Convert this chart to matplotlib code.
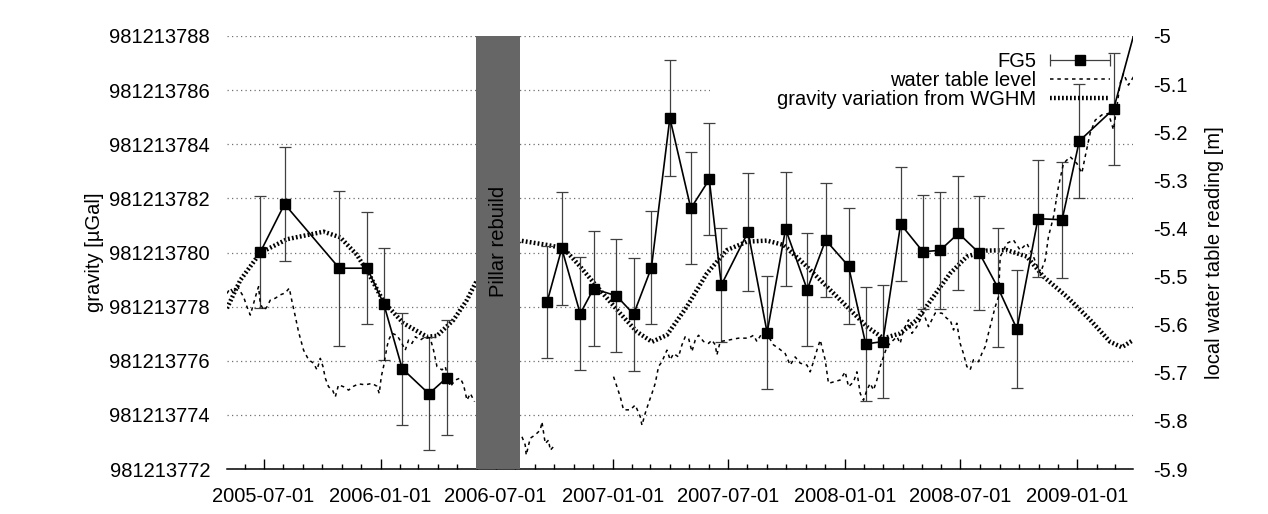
import numpy as np
import pandas as pd
import matplotlib
matplotlib.use('Agg')
import matplotlib.pyplot as plt
import matplotlib.dates as mdates
from matplotlib.patches import Rectangle
from matplotlib.container import ErrorbarContainer
from matplotlib.legend_handler import HandlerErrorbar
from matplotlib.ticker import FuncFormatter

plt.rcParams['font.family'] = ['Liberation Sans', 'DejaVu Sans']
FS = 14.5

# FG5 absolute gravity measurements [uGal]
fg5_date = ['2005-06-26', '2005-08-03', '2005-10-28', '2005-12-11', '2006-01-06',
            '2006-02-04', '2006-03-18', '2006-04-15',
            '2006-09-20', '2006-10-13', '2006-11-11', '2006-12-02', '2007-01-07',
            '2007-02-03', '2007-03-03', '2007-04-01', '2007-05-04', '2007-06-02',
            '2007-06-21', '2007-08-02', '2007-09-01', '2007-09-30', '2007-11-03',
            '2007-12-02', '2008-01-07', '2008-02-03', '2008-03-01', '2008-03-29',
            '2008-05-03', '2008-05-30', '2008-06-28', '2008-07-31', '2008-08-29',
            '2008-09-28', '2008-10-31', '2008-12-08', '2009-01-04', '2009-02-27',
            '2009-04-10']
fg5_g = [981213780.02, 981213781.79, 981213779.42, 981213779.42, 981213778.10,
         981213775.71, 981213774.78, 981213775.37,
         981213778.18, 981213780.15, 981213777.74, 981213778.66, 981213778.40,
         981213777.72, 981213779.44, 981213784.97, 981213781.63, 981213782.70,
         981213778.80, 981213780.76, 981213777.04, 981213780.87, 981213778.63,
         981213780.46, 981213779.50, 981213776.62, 981213776.71, 981213781.05,
         981213780.03, 981213780.08, 981213780.71, 981213779.97, 981213778.70,
         981213777.17, 981213781.25, 981213781.21, 981213784.12, 981213785.30,
         981213788.94]
fg5_err = [2.08, 2.09, 2.87, 2.08, 2.08, 2.07, 2.09, 2.13,
           2.07, 2.10, 2.09, 2.12, 2.09, 2.09, 2.09, 2.14, 2.07, 2.07,
           2.10, 2.17, 2.10, 2.10, 2.09, 2.09, 2.14, 2.10, 2.09, 2.11,
           2.11, 2.15, 2.10, 2.10, 2.19, 2.17, 2.17, 2.14, 2.12, 2.08, 2.10]
n_before = 8  # measurements before the pillar rebuild

# WGHM gravity variation (days after 2005-07-01, uGal)
wghm = [(-57.6, 981213777.94), (-36.6, 981213778.98), (-5.2, 981213779.99),
        (36.8, 981213780.49), (94.4, 981213780.77), (120.6, 981213780.56),
        (146.9, 981213779.91), (167.8, 981213779.11), (188.7, 981213778.18),
        (220.2, 981213777.38), (257.0, 981213776.89), (272.7, 981213776.92),
        (298.8, 981213777.51), (319.9, 981213778.25), (333.0, 981213778.86),
        (368.3, 981213779.80), (403.7, 981213780.44), (445.7, 981213780.28),
        (471.8, 981213780.16), (498.0, 981213779.48), (524.3, 981213778.74),
        (560.9, 981213777.75), (587.2, 981213777.07), (610.8, 981213776.70),
        (634.4, 981213776.95), (665.8, 981213778.00), (697.3, 981213779.23),
        (728.7, 981213780.09), (760.2, 981213780.40), (791.6, 981213780.44),
        (817.7, 981213780.28), (849.2, 981213779.60), (886.0, 981213778.74),
        (922.6, 981213777.88), (948.9, 981213777.26), (975.0, 981213776.83),
        (1001.3, 981213777.01), (1027.5, 981213777.51), (1053.6, 981213778.37),
        (1079.9, 981213779.23), (1106.1, 981213779.85), (1137.6, 981213780.07),
        (1169.0, 981213780.09), (1200.5, 981213779.85), (1226.6, 981213779.11),
        (1263.4, 981213778.37), (1300.1, 981213777.51), (1331.5, 981213776.70),
        (1349.9, 981213776.50), (1368.1, 981213776.77)]

# local water table reading (days after 2005-07-01, m); nan = no data
water = [(-57.6, -5.535), (-52.4, -5.524), (-47.2, -5.535), (-41.8, -5.518),
         (-36.6, -5.531), (-31.5, -5.542), (-26.1, -5.563), (-20.9, -5.580),
         (-15.7, -5.556), (-10.4, -5.531), (-7.9, -5.521), (-5.2, -5.556),
         (0.0, -5.570), (5.3, -5.563), (10.5, -5.549), (18.4, -5.545),
         (26.3, -5.538), (34.1, -5.534), (40.4, -5.524), (44.7, -5.552),
         (49.9, -5.583), (55.0, -5.615), (62.9, -5.653), (70.8, -5.673),
         (78.6, -5.680), (84.0, -5.694), (89.2, -5.670), (93.4, -5.687),
         (97.0, -5.711), (102.2, -5.729), (108.5, -5.736), (112.8, -5.750),
         (117.9, -5.725), (125.8, -5.729), (133.7, -5.736), (141.5, -5.728),
         (149.4, -5.723), (159.9, -5.725), (170.5, -5.722), (178.3, -5.728),
         (181.9, -5.743), (185.1, -5.708), (188.7, -5.687), (194.1, -5.646),
         (196.6, -5.632), (201.9, -5.618), (209.8, -5.622), (217.6, -5.639),
         (222.8, -5.653), (228.0, -5.632), (233.4, -5.639), (238.6, -5.625),
         (246.4, -5.632), (254.3, -5.625), (262.1, -5.628), (267.3, -5.653),
         (272.7, -5.687), (280.6, -5.694), (285.7, -5.687), (293.6, -5.729),
         (301.5, -5.715), (309.3, -5.711), (314.5, -5.725), (319.9, -5.757),
         (325.1, -5.743), (331.8, -5.760),
         (370.0, np.nan),
         (406.4, -5.833), (411.5, -5.850), (413.1, -5.871), (419.4, -5.836),
         (427.3, -5.829), (435.2, -5.819), (437.8, -5.802), (443.0, -5.847),
         (448.2, -5.840), (450.9, -5.861), (455.6, -5.854),
         (500.0, np.nan),
         (550.4, -5.708), (555.8, -5.729), (561.0, -5.750), (566.1, -5.777),
         (576.7, -5.777), (584.5, -5.767), (592.4, -5.791), (595.1, -5.809),
         (600.3, -5.784), (605.5, -5.763), (610.8, -5.743), (616.0, -5.722),
         (621.2, -5.687), (626.5, -5.677), (634.4, -5.653), (639.6, -5.673),
         (644.8, -5.660), (652.6, -5.667), (658.0, -5.642), (663.2, -5.625),
         (668.4, -5.628), (673.7, -5.656), (678.9, -5.632), (684.1, -5.622),
         (692.0, -5.635), (699.8, -5.639), (705.2, -5.632), (710.4, -5.642),
         (713.0, -5.663), (718.2, -5.635), (731.3, -5.632), (747.0, -5.628),
         (762.7, -5.628), (770.6, -5.622), (775.9, -5.635), (783.8, -5.618),
         (794.2, -5.625), (802.0, -5.642), (809.9, -5.649), (820.4, -5.660),
         (828.3, -5.684), (836.1, -5.667), (844.0, -5.680), (854.6, -5.684),
         (859.7, -5.698), (864.9, -5.677), (870.3, -5.653), (875.5, -5.632),
         (883.3, -5.673), (888.5, -5.722), (896.4, -5.719), (906.9, -5.715),
         (914.8, -5.698), (920.0, -5.729), (927.9, -5.719), (933.2, -5.698),
         (938.4, -5.743), (943.6, -5.757), (948.9, -5.736), (954.1, -5.722),
         (959.3, -5.736), (964.6, -5.715), (969.8, -5.687), (975.0, -5.667),
         (980.4, -5.646), (988.2, -5.635), (996.1, -5.625), (1001.3, -5.639),
         (1006.5, -5.611), (1014.4, -5.590), (1019.7, -5.618), (1027.5, -5.604),
         (1037.9, -5.576), (1045.8, -5.604), (1051.1, -5.590), (1056.3, -5.576),
         (1066.8, -5.576), (1074.7, -5.587), (1079.9, -5.590), (1085.1, -5.611),
         (1090.4, -5.597), (1095.6, -5.639), (1100.8, -5.660), (1106.1, -5.687),
         (1111.3, -5.694), (1116.5, -5.673), (1124.4, -5.677), (1129.7, -5.660),
         (1134.9, -5.646), (1140.1, -5.618), (1145.5, -5.590), (1150.7, -5.563),
         (1155.9, -5.542), (1158.6, -5.459), (1169.1, -5.431), (1179.4, -5.424),
         (1190.0, -5.445), (1200.5, -5.431), (1210.9, -5.459), (1221.5, -5.493),
         (1229.3, -5.466), (1234.5, -5.417), (1242.4, -5.376), (1250.2, -5.313),
         (1258.1, -5.265), (1268.6, -5.251), (1279.2, -5.265), (1287.0, -5.285),
         (1292.2, -5.251), (1300.1, -5.202), (1308.0, -5.175), (1318.5, -5.164),
         (1328.9, -5.161), (1336.7, -5.195), (1342.1, -5.147), (1347.3, -5.098),
         (1352.5, -5.078), (1360.3, -5.102), (1368.2, -5.085)]

pillar_start, pillar_end = '2006-05-31', '2006-08-09'
x_start, x_end = '2005-05-04', '2009-03-30'

t0 = pd.Timestamp('2005-07-01')
fg5_t = pd.to_datetime(fg5_date)
wghm_t = t0 + pd.to_timedelta([d for d, _ in wghm], unit='D')
wghm_v = [v for _, v in wghm]
water_t = t0 + pd.to_timedelta([d for d, _ in water], unit='D')
water_v = [v for _, v in water]

fig = plt.figure(figsize=(12.68, 5.14), dpi=100)
ax = fig.add_axes([0.1788, 0.0875, 0.715, 0.8425])
ax2 = ax.twinx()

# white key area hides the grid, data still drawn over it
ax.add_patch(Rectangle((0.533, 0.813), 0.467, 0.143, transform=ax.transAxes,
                       facecolor='white', edgecolor='none', zorder=1))

wghm_line, = ax.plot(wghm_t, wghm_v, color='k', lw=3.2,
                     linestyle=(0, (0.4, 0.5)), dash_capstyle='butt', zorder=2)

ax.errorbar(fg5_t, fg5_g, yerr=fg5_err, fmt='none', ecolor='#404040',
            elinewidth=0.9, capsize=4.5, capthick=0.9, zorder=2.1)
ax.plot(fg5_t[:n_before], fg5_g[:n_before], color='k', lw=1.2, zorder=2.2)
ax.plot(fg5_t[n_before:], fg5_g[n_before:], color='k', lw=1.2, zorder=2.2)
ax.plot(fg5_t, fg5_g, 's', color='k', ms=7.5, zorder=2.3)

ax.axvspan(pd.Timestamp(pillar_start), pd.Timestamp(pillar_end),
           color='#666666', lw=0, zorder=3)
mid = pd.Timestamp(pillar_start) + (pd.Timestamp(pillar_end) - pd.Timestamp(pillar_start)) / 2
ax.text(mid, 981213780.4, 'Pillar rebuild', rotation=90, ha='center', va='center',
        fontsize=FS, zorder=4)

water_line, = ax2.plot(water_t, water_v, color='k', lw=1.1,
                       linestyle=(0, (2.3, 2.5)), zorder=2)

# axes
ax.set_xlim(pd.Timestamp(x_start), pd.Timestamp(x_end))
ax.set_ylim(981213772, 981213788)
ax.set_yticks(np.arange(981213772, 981213789, 2))
ax.yaxis.set_major_formatter(FuncFormatter(lambda v, p: f'{v:.0f}'))
ax.set_axisbelow(True)
ax.yaxis.grid(True, linestyle=(0, (1, 2.6)), color='#707070', lw=0.9)
ax.tick_params(axis='y', length=0, pad=12, labelsize=FS)

ax.xaxis.set_major_locator(mdates.MonthLocator(bymonth=[1, 7]))
ax.xaxis.set_minor_locator(mdates.MonthLocator())
ax.xaxis.set_major_formatter(mdates.DateFormatter('%Y-%m-%d'))
ax.tick_params(axis='x', which='major', direction='in', length=7, width=1,
               pad=13, labelsize=FS)
ax.tick_params(axis='x', which='minor', direction='in', length=3.5, width=1)

ax2.set_ylim(-5.9, -5.0)
ax2.set_yticks(np.round(np.arange(-5.9, -4.95, 0.1), 1))
ax2.yaxis.set_major_formatter(FuncFormatter(lambda v, p: f'{round(v, 1):g}'))
ax2.tick_params(axis='y', length=0, pad=14, labelsize=FS)

for a in (ax, ax2):
    for s in ('left', 'right', 'top'):
        a.spines[s].set_visible(False)
ax2.spines['bottom'].set_visible(False)
ax.spines['bottom'].set_linewidth(1.1)

ax.set_ylabel('gravity [µGal]', fontsize=FS)
ax.yaxis.set_label_coords(-0.1353, 0.5)
ax2.set_ylabel('local water table reading [m]', fontsize=FS)
ax2.yaxis.set_label_coords(1.0791, 0.5)

# legend handle for FG5: horizontal bar with caps, like the original key
dummy = fig.add_axes([0, 0, 0.01, 0.01])
eb = dummy.errorbar([0], [0], xerr=[1], fmt='s', color='k', ms=7.5,
                    ecolor='#404040', elinewidth=0.9, capsize=4.5, capthick=0.9)
dummy.set_visible(False)

leg = ax.legend([eb, water_line, wghm_line],
                ['FG5', 'water table level', 'gravity variation from WGHM'],
                loc='upper right', bbox_to_anchor=(0.9743, 0.9635), frameon=False,
                markerfirst=False, fontsize=FS, handlelength=3.0,
                handletextpad=0.65, labelspacing=0.0, borderpad=0,
                borderaxespad=0, numpoints=1,
                handler_map={ErrorbarContainer: HandlerErrorbar(xerr_size=1.5)})
leg.set_zorder(5)

fig.savefig('out.png', dpi=100)
